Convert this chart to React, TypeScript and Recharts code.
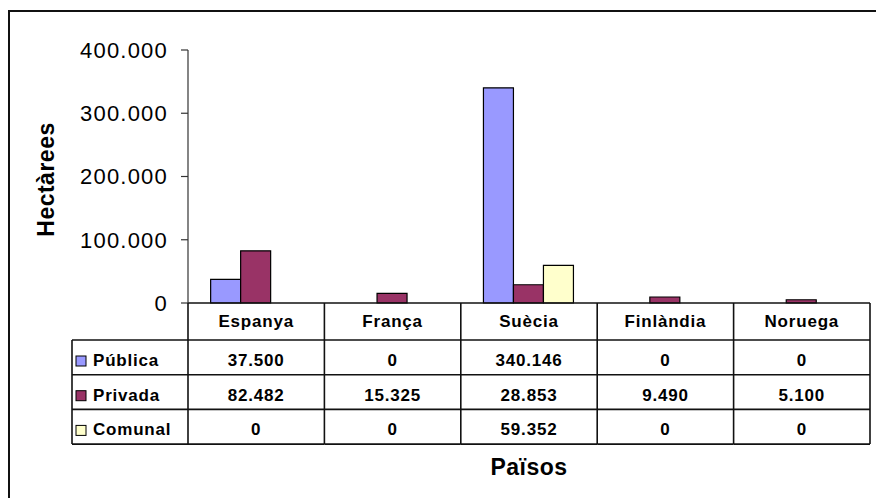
import React from 'react';
import { BarChart, Bar, XAxis, YAxis, Label } from 'recharts';

const categories = ['Espanya', 'França', 'Suècia', 'Finlàndia', 'Noruega'];
const publica = [37500, 0, 340146, 0, 0];
const privada = [82482, 15325, 28853, 9490, 5100];
const comunal = [0, 0, 59352, 0, 0];
const seriesNames = ['Pública', 'Privada', 'Comunal'];
const seriesColors = ['#9999FF', '#993366', '#FFFFCC'];
const yTicks = [0, 100000, 200000, 300000, 400000];
const xTitle = 'Països';
const yTitle = 'Hectàrees';

const seriesValues = [publica, privada, comunal];
const data = categories.map((c, i) => ({
  name: c,
  publica: publica[i],
  privada: privada[i],
  comunal: comunal[i],
}));
const seriesKeys = ['publica', 'privada', 'comunal'];

const W = 876;
const H = 498;
const Y_AXIS_W = 188;
const M_RIGHT = 6;
const M_TOP = 50;
const X_AXIS_H = 195;
const COL_W = (W - Y_AXIS_W - M_RIGHT) / categories.length;
const HEADER_H = 37;
const ROW_H = 34.7;
const LEGEND_LEFT = 72;
const FONT = '"Liberation Sans", Arial, sans-serif';
const LINE = '#111';

const fmt = (v: number) => String(v).replace(/\B(?=(\d{3})+(?!\d))/g, '.');

const TableTick = (props: any) => {
  const { x, y, payload, index } = props;
  const left = x - COL_W / 2;
  const right = x + COL_W / 2;
  const bottom = y + HEADER_H + ROW_H * 3;
  const els: React.ReactNode[] = [];
  // header text
  els.push(
    <text key="h" x={x} y={y + 24} textAnchor="middle" fontFamily={FONT} fontWeight="bold" fontSize={17} letterSpacing={0.8} fill="#000">
      {payload.value}
    </text>
  );
  // vertical lines
  els.push(<line key="vr" x1={right} x2={right} y1={y} y2={bottom} stroke={LINE} strokeWidth={1.6} />);
  if (index === 0) {
    els.push(<line key="vl" x1={left} x2={left} y1={y} y2={bottom} stroke={LINE} strokeWidth={1.6} />);
    els.push(<line key="ll" x1={LEGEND_LEFT} x2={LEGEND_LEFT} y1={y + HEADER_H} y2={bottom} stroke={LINE} strokeWidth={1.6} />);
  }
  // horizontal lines
  for (let r = 0; r <= 3; r++) {
    const ly = y + HEADER_H + ROW_H * r;
    const lx1 = index === 0 ? LEGEND_LEFT : left;
    els.push(<line key={'hl' + r} x1={lx1} x2={right} y1={ly} y2={ly} stroke={LINE} strokeWidth={1.6} />);
  }
  // values
  seriesValues.forEach((vals, r) => {
    const top = y + HEADER_H + ROW_H * r;
    els.push(
      <text key={'v' + r} x={x} y={top + 26} textAnchor="middle" fontFamily={FONT} fontWeight="bold" fontSize={17} letterSpacing={0.8} fill="#000">
        {fmt(vals[props.index])}
      </text>
    );
    if (index === 0) {
      els.push(
        <rect key={'lk' + r} x={LEGEND_LEFT + 4} y={top + 16} width={10} height={10} fill={seriesColors[r]} stroke="#000" strokeWidth={1} />
      );
      els.push(
        <text key={'ln' + r} x={LEGEND_LEFT + 21} y={top + 26} textAnchor="start" fontFamily={FONT} fontWeight="bold" fontSize={17} letterSpacing={0.8} fill="#000">
          {seriesNames[r]}
        </text>
      );
    }
  });
  return <g>{els}</g>;
};

export default function App() {
  return (
    <div style={{ position: 'absolute', left: 0, top: 0, width: W, height: H, overflow: 'hidden', background: '#fff' }}>
      <div style={{ position: 'absolute', left: 8, top: 10, width: W + 20, height: H + 20, border: '2px solid #111' }} />
      <div style={{ position: 'absolute', left: 0, top: 0 }}>
        <BarChart
          width={W}
          height={H}
          data={data}
          margin={{ top: M_TOP, right: M_RIGHT, left: 0, bottom: 0 }}
          barCategoryGap="16.6%"
          barGap={0}
        >
          <XAxis
            dataKey="name"
            height={X_AXIS_H}
            tickSize={0}
            tickMargin={0}
            tickLine={false}
            axisLine={{ stroke: LINE, strokeWidth: 1.6 }}
            tick={<TableTick />}
            interval={0}
          >
            <Label
              value={xTitle}
              position="insideBottom"
              offset={23}
              style={{ fontFamily: FONT, fontWeight: 'bold', fontSize: 23, fill: '#000', letterSpacing: 0.5 }}
            />
          </XAxis>
          <YAxis
            width={Y_AXIS_W}
            domain={[0, 400000]}
            ticks={yTicks}
            tickFormatter={fmt}
            tickSize={7}
            tickMargin={13}
            axisLine={{ stroke: '#333', strokeWidth: 1.2 }}
            tickLine={{ stroke: '#333', strokeWidth: 1.2 }}
            tick={{ fontFamily: FONT, fontSize: 22, fill: '#000', letterSpacing: 1.2 }}
          >
            <Label
              content={(p: any) => {
                const vb = p.viewBox || { y: M_TOP, height: 253 };
                const cy = vb.y + vb.height / 2 + 3;
                return (
                  <text
                    x={46}
                    y={cy}
                    transform={`rotate(-90, 46, ${cy})`}
                    textAnchor="middle"
                    dominantBaseline="central"
                    fontFamily={FONT}
                    fontWeight="bold"
                    fontSize={23}
                    letterSpacing={0.5}
                    fill="#000"
                  >
                    {yTitle}
                  </text>
                );
              }}
            />
          </YAxis>
          {seriesKeys.map((k, i) => (
            <Bar key={k} dataKey={k} name={seriesNames[i]} fill={seriesColors[i]} stroke="#000" strokeWidth={1.2} isAnimationActive={false} />
          ))}
        </BarChart>
      </div>
    </div>
  );
}
